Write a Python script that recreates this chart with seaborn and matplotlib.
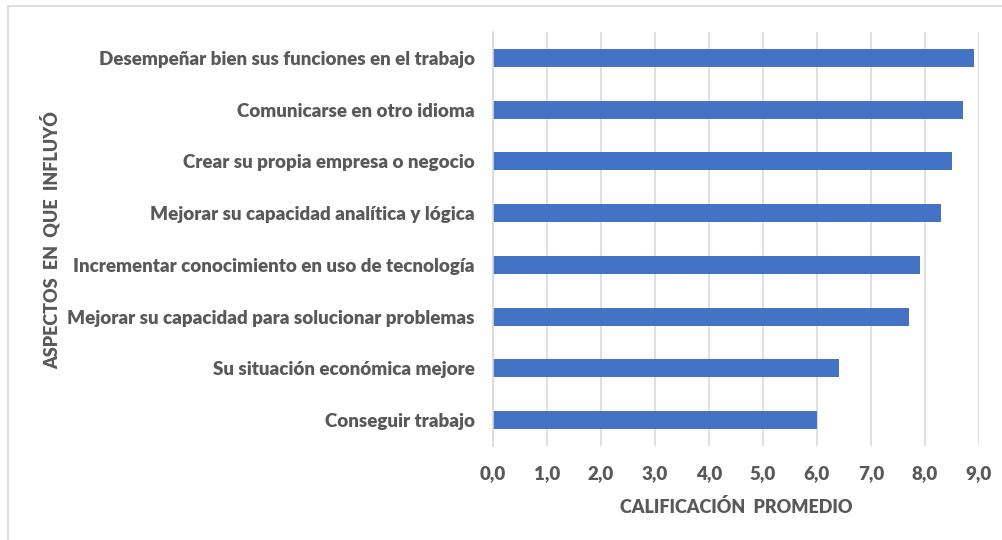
import matplotlib
matplotlib.use("Agg")
import matplotlib.pyplot as plt
import seaborn as sns
import pandas as pd
from matplotlib.lines import Line2D
from matplotlib.ticker import FuncFormatter

categories = [
    "Desempeñar bien sus funciones en el trabajo",
    "Comunicarse en otro idioma",
    "Crear su propia empresa o negocio",
    "Mejorar su capacidad analítica y lógica",
    "Incrementar conocimiento en uso de tecnología",
    "Mejorar su capacidad para solucionar problemas",
    "Su situación económica mejore",
    "Conseguir trabajo",
]
values = [8.9, 8.7, 8.5, 8.3, 7.9, 7.7, 6.4, 6.0]
x_ticks = [0, 1, 2, 3, 4, 5, 6, 7, 8, 9]
x_label = "CALIFICACIÓN  PROMEDIO"
y_label = "ASPECTOS  EN  QUE  INFLUYÓ"

sns.set_theme(style="white")
plt.rcParams["font.family"] = ["Lato", "DejaVu Sans"]

W, H = 1003, 540
fig = plt.figure(figsize=(W / 100, H / 100), dpi=100)
fig.patch.set_facecolor("white")
ax = fig.add_axes([493 / W, (H - 446) / H, 486 / W, 414 / H])

df = pd.DataFrame({"cat": categories, "val": values})
sns.barplot(data=df, x="val", y="cat", orient="h", color="#4472C4",
            width=0.35, ax=ax, saturation=1, edgecolor="none")

text_color = "#595959"
ax.set_xlim(0, 9)
ax.set_ylim(len(categories) - 0.5, -0.5)
ax.set_xticks(x_ticks)
ax.xaxis.set_major_formatter(FuncFormatter(lambda v, p: f"{v:.1f}".replace(".", ",")))
ax.grid(axis="x", color="#d9d9d9", linewidth=1.2)
ax.grid(axis="y", visible=False)
ax.set_axisbelow(True)
for s in ["top", "right", "bottom"]:
    ax.spines[s].set_visible(False)
ax.spines["left"].set_color("#d9d9d9")
ax.spines["left"].set_linewidth(1.2)
ax.tick_params(axis="both", length=0, colors=text_color)
ax.tick_params(axis="x", pad=14)
ax.tick_params(axis="y", pad=13)
for lab in ax.get_xticklabels():
    lab.set_fontsize(13.5)
    lab.set_fontweight("heavy")
    lab.set_color(text_color)
for lab in ax.get_yticklabels():
    lab.set_fontsize(13.5)
    lab.set_fontweight("heavy")
    lab.set_color(text_color)

ax.set_xlabel("")
ax.set_ylabel("")
fig.text(736 / W, 1 - 507 / H, x_label, ha="center", va="center",
         fontsize=13, fontweight="heavy", color=text_color)
fig.text(50 / W, 1 - 240 / H, y_label, ha="center", va="center", rotation=90,
         fontsize=13, fontweight="heavy", color=text_color)

# outer chart border (top and left visible)
fig.add_artist(Line2D([8 / W, 1.0], [1 - 6 / H, 1 - 6 / H], color="#d9d9d9", linewidth=1.2))
fig.add_artist(Line2D([8 / W, 8 / W], [0, 1 - 6 / H], color="#d9d9d9", linewidth=1.2))

fig.savefig("out.png", dpi=100, facecolor="white")
